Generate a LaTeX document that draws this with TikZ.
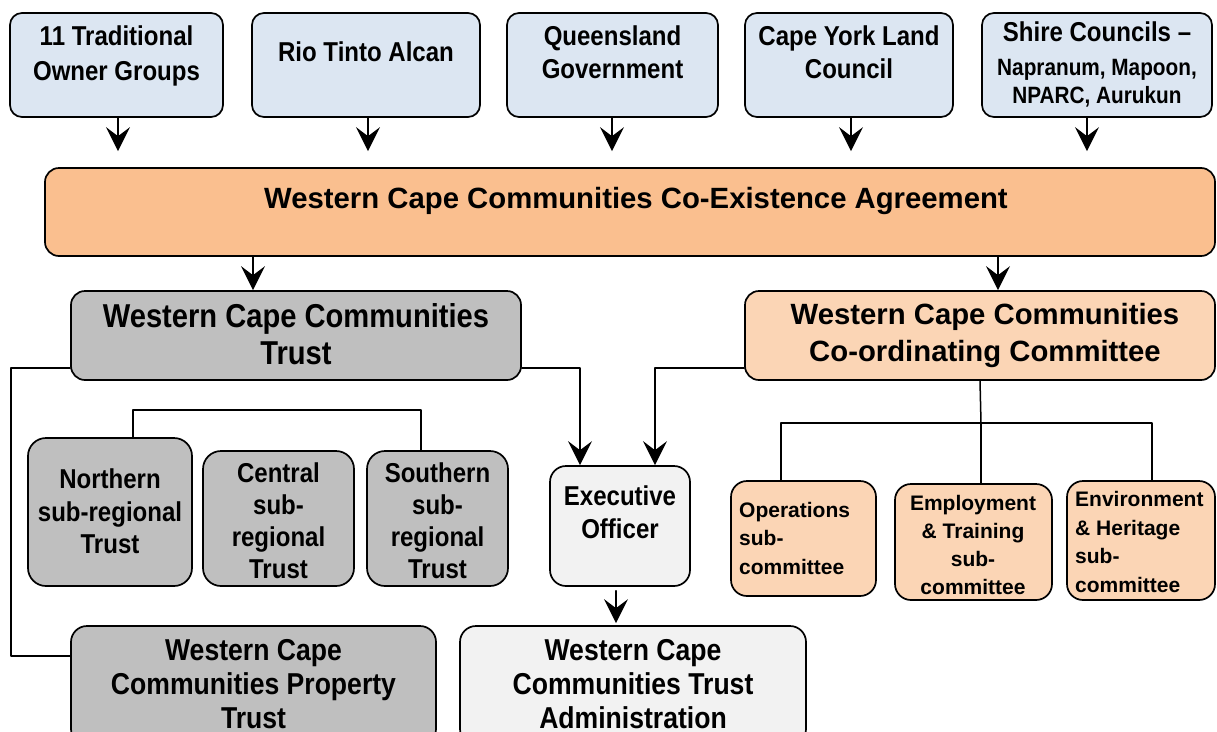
\documentclass[tikz,border=0pt]{standalone}
\usepackage{fontspec}
\setmainfont{Liberation Sans}
\newfontfamily\narrowsf[FakeStretch=0.88]{Liberation Sans}
\usetikzlibrary{arrows.meta}
\definecolor{BoxBlue}{HTML}{DCE6F2}
\definecolor{BoxOrange}{HTML}{FABF8F}
\definecolor{BoxPeach}{HTML}{FBD5B5}
\definecolor{BoxGrey}{HTML}{BFBFBF}
\definecolor{BoxWhite}{HTML}{F2F2F2}

\begin{document}
\begin{tikzpicture}[x=1pt,y=-1pt,line cap=round,line join=round,
  box/.style={draw,line width=1.7pt,rounded corners=14pt,inner sep=0pt},
  link/.style={line width=1.5pt},
  arr/.style={line width=1.7pt,-{Stealth[length=24pt,width=24pt,inset=9pt]}},
  txt/.style={align=center,inner sep=0pt},
  narrow/.style 2 args={font=\narrowsf\bfseries\fontsize{#1}{#2}\selectfont},
  wide/.style 2 args={font=\bfseries\fontsize{#1}{#2}\selectfont}]
  \useasboundingbox (0,0) rectangle (1217,731);
  % parties to the agreement
  \node[box,fill=BoxBlue,rounded corners=12pt,minimum width=213,minimum height=104] (owners) at (116.5,65) {};
  \node[box,fill=BoxBlue,rounded corners=12pt,minimum width=228,minimum height=104] (rio) at (366,65) {};
  \node[box,fill=BoxBlue,rounded corners=12pt,minimum width=211,minimum height=104] (qld) at (612.5,65) {};
  \node[box,fill=BoxBlue,rounded corners=12pt,minimum width=208,minimum height=104] (cyl) at (849,65) {};
  \node[box,fill=BoxBlue,rounded corners=12pt,minimum width=230,minimum height=104] (shire) at (1097,65) {};
  \node[txt,narrow={27.3}{35}] (owners-t) at (116.5,55.5) {11 Traditional\\Owner Groups};
  \node[txt,narrow={27.3}{35}] (rio-t) at (366,52) {Rio Tinto Alcan};
  \node[txt,narrow={27.3}{33}] (qld-t) at (612.5,52.5) {Queensland\\Government};
  \node[txt,narrow={27.3}{33}] (cyl-t) at (849,52.5) {Cape York Land\\Council};
  \node[txt,narrow={27.3}{34}] (shire-t) at (1097,64.5) {Shire Councils –\\{\fontsize{23.6}{28}\selectfont Napranum, Mapoon,}\\[-6pt]{\fontsize{23.6}{28}\selectfont NPARC, Aurukun}};
  % agreement and its two bodies
  \node[box,fill=BoxOrange,minimum width=1170,minimum height=88] (agree) at (630,212) {};
  \node[txt,wide={29.3}{36}] (agree-t) at (636,201) {Western Cape Communities Co-Existence Agreement};
  \node[box,fill=BoxGrey,minimum width=450,minimum height=89] (trust) at (296,335.5) {};
  \node[txt,narrow={33.1}{37}] (trust-t) at (296,334) {Western Cape Communities\\Trust};
  \node[box,fill=BoxPeach,minimum width=470,minimum height=89] (cocom) at (980,335.5) {};
  \node[txt,wide={29.3}{37}] (cocom-t) at (985,335) {Western Cape Communities\\Co-ordinating Committee};
  % sub-regional trusts
  \node[box,fill=BoxGrey,rounded corners=18pt,minimum width=164,minimum height=148] (ntrust) at (110,512) {};
  \node[box,fill=BoxGrey,rounded corners=18pt,minimum width=151,minimum height=135] (ctrust) at (278.5,518.5) {};
  \node[box,fill=BoxGrey,rounded corners=18pt,minimum width=141,minimum height=135] (strust) at (437.5,518.5) {};
  \node[txt,narrow={27.3}{32.5}] (ntrust-t) at (110,511.5) {Northern\\sub-regional\\Trust};
  \node[txt,narrow={27.3}{32}] (ctrust-t) at (278.5,521) {Central\\sub-\\regional\\Trust};
  \node[txt,narrow={27.3}{32}] (strust-t) at (437.5,520.5) {Southern\\sub-\\regional\\Trust};
  % executive and administration
  \node[box,fill=BoxWhite,rounded corners=16pt,minimum width=140,minimum height=120] (exec) at (620,526) {};
  \node[txt,narrow={27.3}{33}] (exec-t) at (620,512.5) {Executive\\Officer};
  \node[box,fill=BoxGrey,rounded corners=16pt,minimum width=365,minimum height=119] (prop) at (253.5,685.5) {};
  \node[txt,narrow={30.2}{34}] (prop-t) at (253.5,684) {Western Cape\\Communities Property\\Trust};
  \node[box,fill=BoxWhite,rounded corners=16pt,minimum width=346,minimum height=119] (admin) at (633,685.5) {};
  \node[txt,narrow={30.2}{34}] (admin-t) at (633,684) {Western Cape\\Communities Trust\\Administration};
  % sub-committees
  \node[box,fill=BoxPeach,rounded corners=16pt,minimum width=145,minimum height=115] (ops) at (803.5,538.5) {};
  \node[box,fill=BoxPeach,rounded corners=16pt,minimum width=157,minimum height=116] (emp) at (973.5,542) {};
  \node[box,fill=BoxPeach,rounded corners=16pt,minimum width=148,minimum height=119] (env) at (1141,540.5) {};
  \node[txt,wide={21}{28.5},align=left,anchor=west] (ops-t) at (739,538) {Operations\\sub-\\committee};
  \node[txt,wide={21}{28}] (emp-t) at (973,545) {Employment\\\& Training\\sub-\\committee};
  \node[txt,wide={21}{28.5},align=left,anchor=west] (env-t) at (1075,542) {Environment\\\& Heritage\\sub-\\committee};
  % connectors
  \foreach \n/\x in {owners/118,rio/368,qld/612,cyl/851,shire/1087}
    \draw[arr,shorten >=16pt] (\x,0 |- \n.south) -- (\x,0 |- agree.north);
  \draw[arr] (253,0 |- agree.south) -- (253,0 |- trust.north);
  \draw[arr] (998,0 |- agree.south) -- (998,0 |- cocom.north);
  \draw[link] (trust.west |- 0,368) -| (11,656) -- (prop.west |- 0,656);
  \draw[arr] (trust.east |- 0,368) -| (580,0 |- exec.north);
  \draw[arr] (cocom.west |- 0,368) -| (655,0 |- exec.north);
  \draw[arr,shorten <=4pt,shorten >=2pt] (616,0 |- exec.south) -- (616,0 |- admin.north);
  \draw[link] (133,0 |- ntrust.north) |- (421,410) -- (421,0 |- strust.north);
  \draw[link] (980,0 |- cocom.south) -- (981,423);
  \draw[link] (781,0 |- ops.north) |- (1152,423) -- (1152,0 |- env.north);
  \draw[link] (981,423) -- (981,0 |- emp.north);
\end{tikzpicture}
\end{document}
